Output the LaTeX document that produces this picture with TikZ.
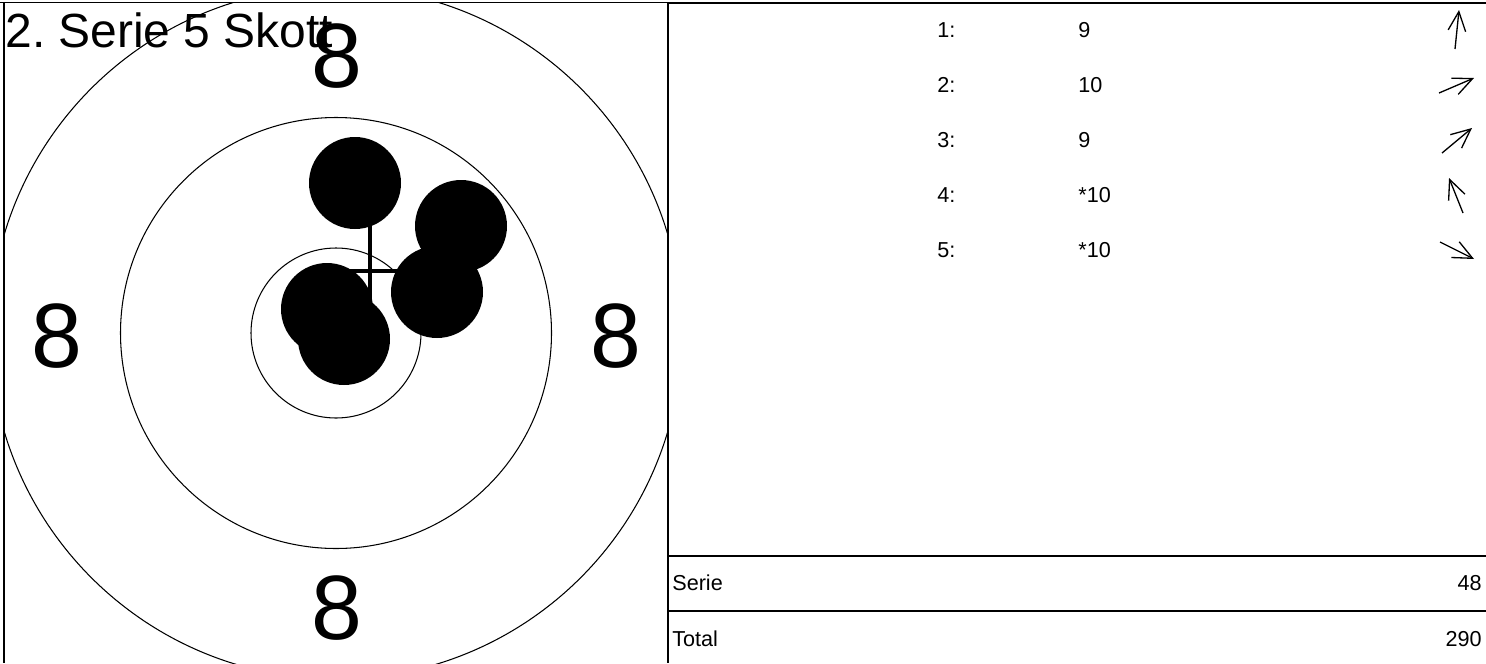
\documentclass[tikz,border=0pt]{standalone}
\usepackage{fontspec}
\setmainfont{Liberation Sans}
\usetikzlibrary{arrows.meta}
\frenchspacing
\tikzset{
  ring/.style={line width=0.6pt},
  shot/.style={fill=black},
  ringnum/.style={font=\fontsize{52}{60}\selectfont,inner sep=0pt},
  cell/.style={font=\fontsize{12.3}{14}\selectfont,inner sep=0pt},
  dirarrow/.style={line width=0.75pt,-{Straight Barb[length=11pt,width=10pt,line width=0.75pt]}},
}
\begin{document}
\begin{tikzpicture}[x=0.02cm,y=-0.02cm]
\useasboundingbox (0,0) rectangle (1486,663);
% target
\begin{scope}
\clip (4,2.5) rectangle (668,663);
\draw[ring] (336,333) circle (346);
\draw[ring] (336,333) circle (215.5);
\draw[ring] (336,333) circle (85);
\end{scope}
\node[font=\fontsize{27.3}{30}\selectfont,inner sep=0pt,anchor=base west] (title) at (5,47) {2. Serie 5 Skott};
\node[ringnum] (top8) at (337,56) {8};
\node[ringnum] (left8) at (57,336) {8};
\node[ringnum] (right8) at (616,336) {8};
\node[ringnum] (bottom8) at (337,608) {8};
% mean point of impact
\draw[line width=2.2pt] (370,225) -- (370,300);
\draw[line width=2.2pt] (346,271) -- (398,271);
% shots
\fill[shot] (355,183) circle (46);
\fill[shot] (437,292) circle (46);
\fill[shot] (461,226) circle (46);
\fill[shot] (327,309) circle (46);
\fill[shot] (344,339) circle (46);
% frame
\draw[line width=0.8pt] (0,2.5) -- (668,2.5);
\draw[line width=1.2pt] (668,3) -- (1486,3);
\draw[line width=0.8pt] (4,2.5) -- (4,663);
\draw[line width=0.8pt] (668,2.5) -- (668,663);
\draw[line width=0.6pt] (668,556) -- (1486,556);
\draw[line width=0.6pt] (668,611) -- (1486,611);
% shot list
\node[cell,anchor=west] (no1) at (937,30) {1:};
\node[cell,anchor=west] (no2) at (937,85) {2:};
\node[cell,anchor=west] (no3) at (937,140) {3:};
\node[cell,anchor=west] (no4) at (937,195) {4:};
\node[cell,anchor=west] (no5) at (937,250) {5:};
\node[cell,anchor=west] (val1) at (1078,30) {9};
\node[cell,anchor=west] (val2) at (1078,85) {10};
\node[cell,anchor=west] (val3) at (1078,140) {9};
\node[cell,anchor=west] (val4) at (1078,195) {*10};
\node[cell,anchor=west] (val5) at (1078,250) {*10};
\draw[dirarrow] (1455,49) -- (1459,10);
\draw[dirarrow] (1439,93) -- (1474,78);
\draw[dirarrow] (1442,153) -- (1472,128);
\draw[dirarrow] (1463,213) -- (1449,178);
\draw[dirarrow] (1440,242) -- (1474,259);
% sums
\node[cell,anchor=west] (serie) at (672,583) {Serie};
\node[cell,anchor=east] (seriesum) at (1482,583) {48};
\node[cell,anchor=west] (total) at (672,639) {Total};
\node[cell,anchor=east] (totalsum) at (1482,639) {290};
\end{tikzpicture}
\end{document}
